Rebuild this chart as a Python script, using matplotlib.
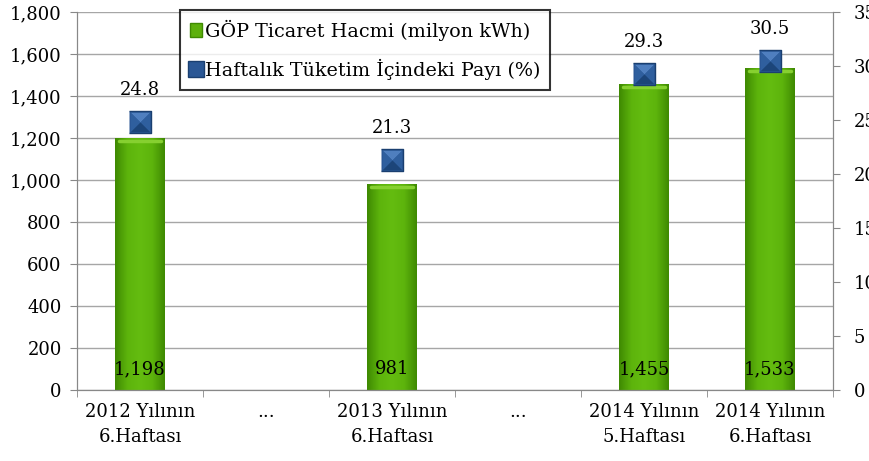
import numpy as np
import matplotlib.pyplot as plt
from matplotlib.lines import Line2D
from matplotlib.patches import Patch
from matplotlib.colors import LinearSegmentedColormap

categories = ["2012 Yılının\n6.Haftası", "...", "2013 Yılının\n6.Haftası", "...",
              "2014 Yılının\n5.Haftası", "2014 Yılının\n6.Haftası"]
volume = [1198, np.nan, 981, np.nan, 1455, 1533]
share = [24.8, np.nan, 21.3, np.nan, 29.3, 30.5]
volume_labels = ["1,198", "", "981", "", "1,455", "1,533"]
legend_labels = ["GÖP Ticaret Hacmi (milyon kWh)", "Haftalık Tüketim İçindeki Payı (%)"]

plt.rcParams['font.family'] = ['DejaVu Serif']
FS = 13

fig = plt.figure(figsize=(8.7, 4.61), dpi=100)
ax = fig.add_axes([0.0885, 0.154, 0.869, 0.82])
ax2 = ax.twinx()

x = np.arange(len(categories))
green = LinearSegmentedColormap.from_list("g", ["#3f8a02", "#5db40c", "#64bc10", "#5db40c", "#3f8a02"])
bars = ax.bar(x, np.nan_to_num(volume), width=0.39, color="#5db00c", edgecolor="none", zorder=2)
grad = np.linspace(0, 1, 100).reshape(1, -1)
for b in bars:
    if b.get_height() <= 0:
        continue
    im = ax.imshow(grad, cmap=green, aspect="auto", zorder=2.5,
                   extent=[b.get_x(), b.get_x() + b.get_width(), 0, b.get_height()])
    im.set_clip_path(b)
    # lighter top cap
    ax.plot([b.get_x() + 0.03, b.get_x() + b.get_width() - 0.03], [b.get_height() - 14] * 2,
            color="#86d030", lw=2.5, zorder=2.6, solid_capstyle="round")

for xi, lab in zip(x, volume_labels):
    if lab:
        ax.text(xi, 100, lab, ha="center", va="center", fontsize=FS, zorder=5)

ax.set_xlim(-0.5, len(categories) - 0.5)
ax.set_ylim(0, 1800)
ax.set_yticks(range(0, 1801, 200))
ax.set_yticklabels([f"{v:,}" for v in range(0, 1801, 200)], fontsize=FS)
ax.set_xticks(x)
ax.set_xticklabels(categories, fontsize=FS, linespacing=1.5)
ax.set_xticks(np.arange(-0.5, len(categories)), minor=True)
ax.tick_params(axis="x", which="major", length=0, pad=9)
ax.tick_params(axis="x", which="minor", length=5, color="#888888")
ax.tick_params(axis="y", length=5, color="#888888", pad=6)
ax.grid(axis="y", color="#a6a6a6", lw=1, zorder=0)
ax.set_axisbelow(True)
ax.spines["top"].set_visible(False)
ax2.spines["top"].set_visible(False)
for s in ["left", "bottom", "right"]:
    ax.spines[s].set_color("#888888")
    ax2.spines[s].set_color("#888888")

ax2.set_ylim(0, 35)
ax2.set_yticks(range(0, 36, 5))
ax2.set_yticklabels([str(v) for v in range(0, 36, 5)], fontsize=FS)
ax2.tick_params(axis="y", length=5, color="#888888", pad=10)

# pyramid-like square markers
sq = [(-1, -1), (1, -1), (1, 1), (-1, 1)]
faces = [([(-1, 1), (1, 1), (0, 0)], "#4f7fbf"),
         ([(-1, -1), (-1, 1), (0, 0)], "#2f5f9e"),
         ([(1, -1), (1, 1), (0, 0)], "#2f5f9e"),
         ([(-1, -1), (1, -1), (0, 0)], "#1c4579")]
ax2.plot(x, share, linestyle="none", marker=sq, markersize=16, markerfacecolor="#2a5795",
         markeredgecolor="#1a3f70", markeredgewidth=1, zorder=4)
for verts, c in faces:
    ax2.plot(x, share, linestyle="none", marker=verts, markersize=14, markerfacecolor=c,
             markeredgecolor="none", zorder=4.5)

for xi, s in zip(x, share):
    if not np.isnan(s):
        ax2.annotate(f"{s}", (xi, s), xytext=(0, 23), textcoords="offset points",
                     ha="center", va="center", fontsize=FS)

handles = [Patch(facecolor="#5db00c", edgecolor="#3f8a02"),
           Line2D([], [], linestyle="none", marker="s", markersize=11,
                  markerfacecolor="#2a5795", markeredgecolor="#1a3f70")]
leg = ax2.legend(handles, legend_labels,
                 loc="upper left", bbox_to_anchor=(180 / 870, 1 - 10 / 461),
                 bbox_transform=fig.transFigure, prop={"size": 13.8}, frameon=True, fancybox=False,
                 handlelength=0.65, handletextpad=0.15, borderpad=0.5, labelspacing=0.95,
                 borderaxespad=0)
leg.get_frame().set_edgecolor("black")
leg.get_frame().set_linewidth(1.5)

fig.savefig("out.png", dpi=100)
